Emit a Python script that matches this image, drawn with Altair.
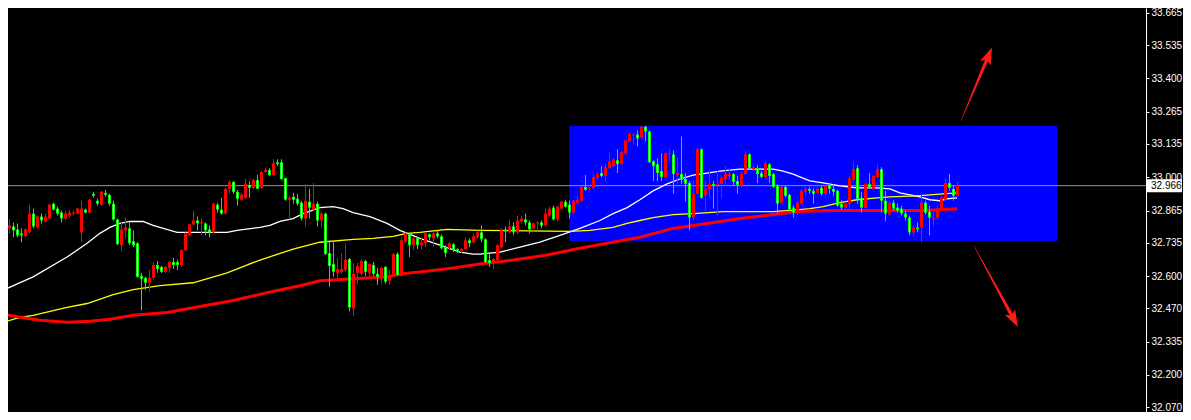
import altair as alt
import pandas as pd

# ---------------- data ----------------
opens = [32.885,32.829,32.793,32.801,32.789,32.773,32.761,32.777,32.853,32.797,
32.841,32.821,32.833,32.893,32.873,32.857,32.833,32.845,32.853,32.853,
32.777,32.869,32.857,32.933,32.905,32.889,32.937,32.929,32.893,32.829,
32.725,32.785,32.793,32.741,32.733,32.601,32.593,32.573,32.593,32.645,
32.637,32.617,32.633,32.657,32.657,32.645,32.705,32.765,32.809,32.825,
32.813,32.813,32.789,32.777,32.889,32.869,32.853,32.953,32.981,32.941,
32.909,32.917,32.969,32.957,32.989,32.957,33.021,33.029,33.009,33.061,
33.061,32.997,32.909,32.921,32.913,32.897,32.833,32.901,32.869,32.893,
32.825,32.853,32.693,32.649,32.613,32.617,32.625,32.669,32.469,32.613,
32.609,32.661,32.613,32.645,32.609,32.597,32.637,32.581,32.601,32.689,
32.601,32.741,32.769,32.725,32.753,32.725,32.733,32.769,32.753,32.773,
32.761,32.717,32.713,32.729,32.709,32.701,32.709,32.745,32.737,32.757,
32.777,32.749,32.665,32.653,32.665,32.717,32.789,32.777,32.801,32.777,
32.821,32.829,32.817,32.793,32.813,32.817,32.805,32.845,32.877,32.829,
32.873,32.901,32.889,32.857,32.897,32.905,32.961,32.953,32.957,32.997,
33.017,33.005,33.037,33.045,33.069,33.053,33.097,33.145,33.169,33.173,
33.161,33.205,33.185,33.065,33.053,33.025,33.001,33.093,33.093,33.009,
33.013,32.993,32.977,32.837,32.933,33.113,32.925,32.953,32.973,32.969,
32.973,32.993,33.005,33.013,32.985,32.965,33.013,33.093,33.033,33.037,
33.017,33.001,33.053,33.013,32.965,32.897,32.961,32.929,32.877,32.853,
32.893,32.941,32.953,32.945,32.937,32.957,32.933,32.969,32.953,32.945,
32.893,32.877,32.893,32.989,33.037,32.917,32.877,32.973,32.953,33.001,
33.033,32.905,32.849,32.897,32.877,32.873,32.853,32.837,32.777,32.797,
32.797,32.897,32.861,32.833,32.837,32.873,32.909,32.977,32.953,32.925]

highs = [32.917,32.837,32.829,32.817,32.813,32.793,32.793,32.889,32.873,32.845,
32.853,32.853,32.893,32.897,32.881,32.865,32.865,32.869,32.865,32.877,
32.905,32.873,32.913,32.941,32.913,32.945,32.949,32.933,32.905,32.833,
32.817,32.837,32.817,32.785,32.737,32.613,32.597,32.625,32.657,32.661,
32.641,32.641,32.661,32.673,32.665,32.709,32.777,32.813,32.865,32.841,
32.833,32.817,32.805,32.897,32.897,32.917,32.957,32.989,32.985,32.949,
32.937,32.993,32.985,32.993,33.009,33.025,33.037,33.037,33.073,33.073,
33.073,32.997,32.925,32.937,32.933,32.905,32.973,32.953,32.977,32.901,
32.861,32.857,32.745,32.737,32.673,32.693,32.733,32.673,32.653,32.653,
32.669,32.665,32.653,32.657,32.633,32.637,32.641,32.625,32.693,32.697,
32.757,32.777,32.773,32.757,32.757,32.757,32.773,32.773,32.777,32.785,
32.769,32.725,32.737,32.733,32.713,32.713,32.757,32.753,32.773,32.785,
32.805,32.753,32.697,32.673,32.729,32.793,32.801,32.829,32.817,32.845,
32.845,32.853,32.825,32.817,32.821,32.825,32.873,32.881,32.885,32.885,
32.905,32.909,32.905,32.909,32.925,32.965,33.009,32.969,33.017,33.021,
33.045,33.053,33.101,33.077,33.113,33.105,33.153,33.181,33.177,33.189,
33.209,33.209,33.189,33.069,33.077,33.097,33.101,33.117,33.109,33.081,
33.165,33.017,32.985,32.985,33.117,33.117,32.985,33.033,32.985,33.025,
33.005,33.045,33.037,33.017,33.005,33.025,33.109,33.097,33.053,33.049,
33.025,33.065,33.057,33.017,32.973,32.965,32.965,32.933,32.885,32.905,
32.953,32.961,32.961,32.957,32.977,32.965,32.973,32.977,32.973,32.949,
32.909,32.901,33.005,33.065,33.049,32.941,32.977,33.017,33.009,33.053,
33.041,32.945,32.905,32.909,32.893,32.885,32.865,32.845,32.805,32.817,
32.933,32.905,32.885,32.865,32.885,32.925,32.997,33.013,32.965,32.981]

lows = [32.817,32.773,32.773,32.757,32.757,32.737,32.757,32.773,32.793,32.793,
32.813,32.817,32.829,32.865,32.845,32.817,32.829,32.837,32.845,32.849,
32.737,32.853,32.853,32.917,32.885,32.885,32.921,32.885,32.825,32.725,
32.701,32.753,32.725,32.717,32.593,32.461,32.545,32.537,32.585,32.613,
32.613,32.613,32.613,32.629,32.625,32.637,32.701,32.761,32.805,32.785,
32.765,32.765,32.757,32.773,32.857,32.849,32.849,32.933,32.933,32.885,
32.905,32.913,32.917,32.953,32.953,32.953,33.017,33.005,33.005,33.045,
32.989,32.905,32.829,32.893,32.885,32.825,32.801,32.833,32.861,32.801,
32.797,32.685,32.557,32.597,32.593,32.609,32.617,32.457,32.437,32.565,
32.601,32.601,32.601,32.601,32.565,32.569,32.569,32.565,32.597,32.601,
32.597,32.733,32.677,32.705,32.709,32.709,32.717,32.745,32.717,32.753,
32.709,32.677,32.705,32.697,32.693,32.693,32.705,32.717,32.733,32.753,
32.737,32.653,32.637,32.629,32.661,32.713,32.737,32.773,32.765,32.769,
32.813,32.805,32.773,32.781,32.785,32.793,32.801,32.841,32.825,32.821,
32.869,32.877,32.833,32.853,32.893,32.901,32.945,32.945,32.953,32.989,
33.001,32.981,33.033,33.041,33.017,33.049,33.093,33.141,33.133,33.125,
33.157,33.145,33.057,32.985,32.985,32.985,32.997,33.065,32.933,32.973,
32.973,32.901,32.785,32.825,32.929,32.913,32.865,32.917,32.873,32.845,
32.913,32.965,32.989,32.965,32.933,32.957,33.009,33.029,33.025,32.977,
32.997,32.997,32.977,32.957,32.853,32.893,32.917,32.861,32.837,32.849,
32.889,32.925,32.933,32.893,32.933,32.925,32.925,32.933,32.925,32.881,
32.869,32.873,32.865,32.981,32.893,32.857,32.873,32.953,32.945,32.997,
32.857,32.821,32.845,32.865,32.857,32.845,32.825,32.765,32.761,32.777,
32.737,32.849,32.765,32.801,32.829,32.865,32.905,32.945,32.905,32.921]

closes = [32.829,32.797,32.805,32.785,32.765,32.765,32.789,32.853,32.801,32.841,
32.825,32.841,32.889,32.869,32.853,32.833,32.853,32.857,32.857,32.873,
32.873,32.857,32.909,32.925,32.893,32.941,32.929,32.893,32.829,32.729,
32.789,32.797,32.733,32.725,32.597,32.589,32.573,32.593,32.645,32.629,
32.617,32.637,32.657,32.645,32.645,32.705,32.773,32.809,32.825,32.813,
32.817,32.785,32.777,32.893,32.869,32.853,32.953,32.981,32.941,32.913,
32.929,32.973,32.957,32.989,32.953,33.021,33.029,33.009,33.057,33.053,
32.993,32.909,32.917,32.909,32.893,32.833,32.905,32.877,32.893,32.825,
32.853,32.689,32.641,32.617,32.629,32.629,32.665,32.473,32.609,32.641,
32.661,32.617,32.649,32.609,32.597,32.633,32.577,32.605,32.689,32.605,
32.745,32.773,32.725,32.753,32.725,32.737,32.773,32.757,32.773,32.761,
32.713,32.693,32.733,32.705,32.697,32.709,32.745,32.733,32.761,32.777,
32.749,32.657,32.653,32.669,32.725,32.789,32.781,32.801,32.777,32.825,
32.833,32.817,32.789,32.813,32.817,32.805,32.853,32.873,32.829,32.881,
32.901,32.881,32.857,32.905,32.909,32.961,32.949,32.957,33.001,33.013,
33.005,33.041,33.065,33.073,33.053,33.101,33.149,33.177,33.173,33.157,
33.205,33.185,33.061,33.045,33.017,33.001,33.097,33.097,33.013,33.017,
32.989,32.973,32.837,32.933,33.113,32.917,32.953,32.973,32.965,32.973,
32.997,33.013,33.013,32.981,32.969,33.013,33.093,33.037,33.041,33.013,
33.001,33.057,33.005,32.961,32.893,32.961,32.925,32.869,32.857,32.897,
32.945,32.953,32.945,32.933,32.953,32.933,32.965,32.953,32.941,32.885,
32.877,32.893,32.997,33.033,32.913,32.877,32.973,32.957,33.005,33.033,
32.905,32.853,32.897,32.873,32.865,32.853,32.837,32.777,32.797,32.789,
32.897,32.857,32.837,32.837,32.873,32.917,32.977,32.957,32.925,32.969]

white_ma_x = [0.6,8.9,17.4,22.4,25.6,28.1,30.6,33.1,36.4,38.9,40.6,44.9,57.4,59.9,65.6,68.1,
70.6,73.9,76.4,80.6,83.9,86.4,88.9,93.1,97.4,100.6,105.6,110.6,115.6,118.9,120.6,125.6,
130.6,135.6,140.6,145.6,150.6,153.9,157.4,160.6,163.9,167.4,170.6,173.9,177.4,180.6,185.6,
190.6,193.9,196.4,198.9,203.1,206.4,210.6,214.9,219.9,223.1,225.6,228.1,230.6,233.1,235.6,237.4,239.9]
white_ma_y = [32.537,32.597,32.677,32.733,32.773,32.797,32.813,32.821,32.821,32.805,32.797,32.777,32.777,32.785,32.797,32.805,
32.821,32.833,32.853,32.877,32.881,32.873,32.857,32.841,32.813,32.785,32.753,32.725,32.697,32.689,32.689,32.697,
32.717,32.737,32.765,32.793,32.825,32.853,32.877,32.909,32.945,32.973,32.993,33.009,33.017,33.025,33.033,
33.033,33.033,33.025,33.013,32.985,32.977,32.965,32.957,32.957,32.953,32.937,32.929,32.921,32.909,32.905,32.913,32.917]

yellow_ma_x = [0.6,5.6,8.9,17.4,22.4,28.9,33.9,40.6,48.9,57.4,65.6,73.9,80.6,88.9,93.9,98.9,102.4,105.6,
112.4,120.6,143.1,148.1,153.9,157.4,160.6,163.9,168.9,173.9,181.4,193.9,200.6,203.1,206.4,210.6,
214.9,219.9,223.1,229.9,233.1,236.4,239.9]
yellow_ma_y = [32.409,32.433,32.441,32.473,32.489,32.525,32.545,32.561,32.573,32.613,32.665,32.709,32.737,32.749,32.753,32.761,32.773,32.777,
32.789,32.785,32.781,32.785,32.797,32.813,32.825,32.837,32.849,32.853,32.861,32.861,32.869,32.873,32.881,32.897,
32.909,32.917,32.921,32.925,32.929,32.933,32.937]

red_ma_x = [0.6,5.6,10.6,17.4,23.1,28.1,33.9,42.4,50.6,58.9,67.4,75.6,80.6,88.9,97.4,101.4,105.6,109.9,
113.9,120.6,128.9,137.4,145.6,152.4,160.6,168.9,177.4,185.6,193.9,200.6,208.1,223.1,231.4,235.6,239.9]
red_ma_y = [32.449,32.433,32.421,32.413,32.417,32.425,32.441,32.453,32.477,32.501,32.533,32.561,32.581,32.589,32.597,32.609,32.617,32.625,
32.633,32.649,32.665,32.685,32.713,32.733,32.757,32.793,32.813,32.833,32.849,32.861,32.865,32.865,32.865,32.869,32.873]

tick_values = [33.665,33.535,33.400,33.265,33.135,33.000,32.865,32.735,32.600,32.470,32.335,32.200,32.070]
last_price = 32.966
box_x = [142.9, 264.9]
box_y = [32.742, 33.209]

arrow_id = ["up", "up", "down", "down"]
arrow_x = [240.875, 247.75, 244.125, 254.05]
arrow_y = [33.229, 33.492, 32.722, 32.4255]
arrow_w = [0.4, 3.6, 0.4, 3.6]
head_x = [247.75, 254.05]
head_y = [33.492, 32.4255]
head_angle = [22.7, 151.8]

# ---------------- build ----------------
W, H = 1138, 404
xs = alt.Scale(domain=[2.625, 2.625 + W / 4], nice=False, zero=False)
ys = alt.Scale(domain=[32.0498, 33.6852], nice=False, zero=False)
y_axis = alt.Axis(orient="right", values=tick_values, format=".3f", labelColor="white",
                  labelFont="Liberation Sans", labelFontSize=10, tickColor="white", tickSize=3,
                  domainColor="white", domainWidth=1, labelPadding=2, grid=False,
                  labelOverlap=False, labelBound=False, labelFlush=False, title=None)

n = len(opens)
df = pd.DataFrame({"i": list(range(1, n + 1)), "o": opens, "h": highs, "l": lows, "c": closes})
df["up"] = df["c"] >= df["o"]
df["col"] = df["up"].map({True: "#ff0000", False: "#00ff00"})
df["top"] = df[["o", "c"]].max(axis=1)
df["bot"] = df[["o", "c"]].min(axis=1)
inner = df[(~df["up"]) & ((df["top"] - df["bot"]) > 0.009)].copy()
inner["it"] = inner["top"] - 0.004
inner["ib"] = inner["bot"] + 0.004

X = lambda f: alt.X(f, type="quantitative", scale=xs, axis=None)
Y = lambda f: alt.Y(f, type="quantitative", scale=ys, axis=y_axis)

box = alt.Chart(pd.DataFrame({"x0": [box_x[0]], "x1": [box_x[1]], "y0": [box_y[0]], "y1": [box_y[1]]})).mark_rect(
    color="#0000ff").encode(x=X("x0"), x2="x1", y=Y("y0"), y2="y1")

hline = alt.Chart(pd.DataFrame({"p": [last_price]})).mark_rule(color="#8e98a8", strokeWidth=1).encode(y=Y("p"))

def ma(xv, yv, color, w):
    return alt.Chart(pd.DataFrame({"x": xv, "y": yv})).mark_line(color=color, strokeWidth=w, clip=True).encode(
        x=X("x"), y=Y("y"))

white = ma(white_ma_x, white_ma_y, "#ffffff", 1.3)
yellow = ma(yellow_ma_x, yellow_ma_y, "#ffff00", 1.3)
red = ma(red_ma_x, red_ma_y, "#ff0000", 3)

base = alt.Chart(df)
wicks = base.mark_rule(strokeWidth=1, clip=True).encode(
    x=X("i"), y=Y("l"), y2="h", color=alt.Color("col:N", scale=None))
bodies = base.mark_rule(strokeWidth=3, strokeCap="butt", clip=True).encode(
    x=X("i"), y=Y("o"), y2="c", color=alt.Color("col:N", scale=None))
inners = alt.Chart(inner).mark_rule(strokeWidth=1, strokeCap="butt", color="#ffffff", clip=True).encode(
    x=X("i"), y=Y("it"), y2="ib")

arr = pd.DataFrame({"a": arrow_id, "x": arrow_x, "y": arrow_y, "w": arrow_w, "s": [0, 1, 0, 1]})
trails = alt.Chart(arr).mark_trail(color="#ff1a1a").encode(
    x=X("x"), y=Y("y"), size=alt.Size("w:Q", scale=None), detail="a:N", order="s:Q")
heads = alt.Chart(pd.DataFrame({"x": head_x, "y": head_y, "ang": head_angle})).mark_point(
    shape="M0,-1L0.65,0.9L0,0.45L-0.65,0.9Z", filled=True, size=324, color="#ff1a1a", opacity=1,
    strokeWidth=0).encode(x=X("x"), y=Y("y"), angle=alt.Angle("ang:Q", scale=None))

pbox = alt.Chart(pd.DataFrame({"p": [last_price]})).mark_rule(color="#ffffff", strokeWidth=13, strokeCap="butt").encode(
    x=alt.value(W + 1), x2=alt.value(W + 36), y=Y("p"))
ptext = alt.Chart(pd.DataFrame({"p": [last_price], "t": ["32.966"]})).mark_text(
    align="left", baseline="middle", font="Liberation Sans", fontSize=10, color="#000000").encode(
    x=alt.value(W + 5), y=Y("p"), text="t:N")

chart = alt.layer(box, hline, white, yellow, red, wicks, bodies, inners, trails, heads, pbox, ptext).properties(
    width=W, height=H, background="#000000",
    padding={"left": 0, "top": 0, "right": 37, "bottom": 0},
    autosize=alt.AutoSizeParams(type="none"),
).configure_view(strokeWidth=0)

chart.save("out.html", embed_options={"renderer": "svg", "actions": False})
